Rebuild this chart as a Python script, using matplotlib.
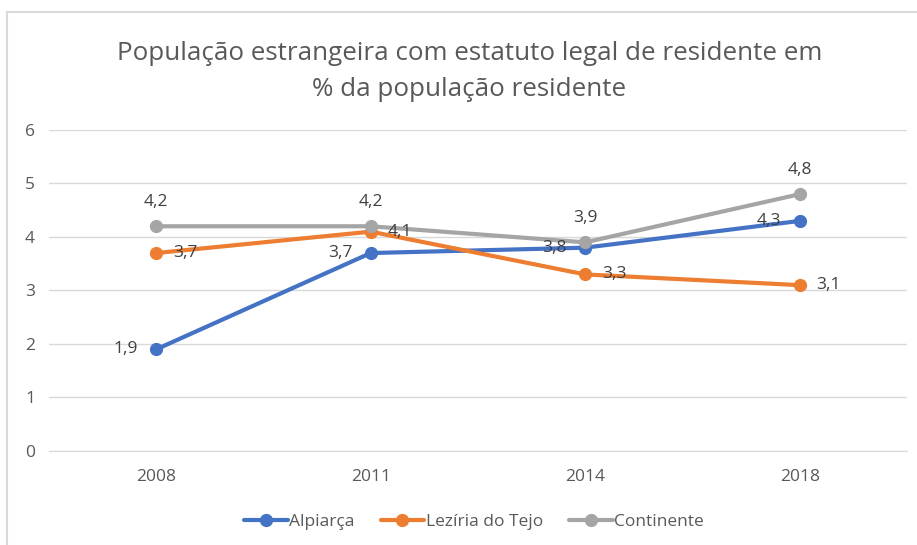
import matplotlib
matplotlib.use('Agg')
import matplotlib.pyplot as plt
import numpy as np

plt.rcParams['font.family'] = ['Open Sans', 'DejaVu Sans']

# dados
anos = ['2008', '2011', '2014', '2018']
alpiarca = [1.9, 3.7, 3.8, 4.3]
leziria = [3.7, 4.1, 3.3, 3.1]
continente = [4.2, 4.2, 3.9, 4.8]
series_nomes = ['Alpiarça', 'Lezíria do Tejo', 'Continente']

cores = ['#4472C4', '#ED7D31', '#A5A5A5']
posicao_rotulo = ['left', 'right', 'above']

fig = plt.figure(figsize=(9.17, 5.45), dpi=100)
ax = fig.add_axes([0.0534, 0.1725, 0.9356, 0.589])

x = np.arange(len(anos))
linhas = []
for vals, nome, cor, pos in zip([alpiarca, leziria, continente], series_nomes, cores, posicao_rotulo):
    l, = ax.plot(x, vals, color=cor, lw=3, marker='o', ms=8.5, label=nome, solid_capstyle='round')
    linhas.append(l)
    for xi, v in zip(x, vals):
        txt = ('%.1f' % v).replace('.', ',')
        if pos == 'left':
            off, ha, va = (-13, 0), 'right', 'center'
        elif pos == 'right':
            off, ha, va = (12, 0), 'left', 'center'
        else:
            off, ha, va = (0, 12), 'center', 'bottom'
        ax.annotate(txt, (xi, v), xytext=off, textcoords='offset points',
                    ha=ha, va=va, fontsize=12.5, color='#404040')

ax.set_xlim(-0.5, 3.5)
ax.set_ylim(0, 6)
ax.set_yticks(range(0, 7))
ax.set_xticks(x, labels=anos)
ax.yaxis.grid(True, color='#D9D9D9', lw=1)
ax.set_axisbelow(True)
for s in ax.spines.values():
    s.set_visible(False)
ax.spines['bottom'].set_visible(True)
ax.spines['bottom'].set_color('#D9D9D9')
ax.tick_params(length=0, labelsize=12.5, labelcolor='#595959')
ax.tick_params(axis='y', pad=10)
ax.tick_params(axis='x', pad=13)

fig.text(0.512, 0.869, 'População estrangeira com estatuto legal de residente em\n% da população residente',
         ha='center', va='center', fontsize=18.7, color='#595959', linespacing=1.55)

fig.legend(handles=linhas, loc='center', bbox_to_anchor=(0.517, 0.043), ncol=3, frameon=False,
           fontsize=12.5, labelcolor='#595959', handlelength=2.5, columnspacing=1.5, handletextpad=0.1)

# moldura do gráfico
fig.add_artist(plt.Line2D([0.0076, 0.0076], [0, 0.978], color='#D9D9D9', lw=1.5, transform=fig.transFigure))
fig.add_artist(plt.Line2D([0.0076, 1], [0.978, 0.978], color='#D9D9D9', lw=1.5, transform=fig.transFigure))

fig.savefig('out.png', dpi=100)
